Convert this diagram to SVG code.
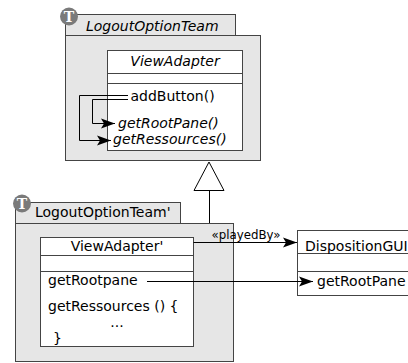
<svg xmlns="http://www.w3.org/2000/svg" width="408" height="363" viewBox="0 0 408 363">
<style>
.team{fill:#e6e6e6;stroke:#444;stroke-width:1}
.cls{fill:#fff;stroke:#444;stroke-width:1}
.sep{stroke:#444;stroke-width:1}
text{font-family:"DejaVu Sans",Verdana,sans-serif;font-size:14px;fill:#000}
.it{font-style:italic}
.icon{fill:#7a7a7a}
.iconT{font-family:"DejaVu Serif","Liberation Serif",serif;font-weight:bold;font-size:14px;fill:#fff}
.ln{fill:none;stroke:#000;stroke-width:1}
</style>
<defs>
<marker id="arr" markerWidth="15" markerHeight="11" refX="14" refY="5.5" orient="auto" markerUnits="userSpaceOnUse">
<path d="M0,0.5 L14,5.5 L0,10.5 L3,5.5 Z" fill="#000"/>
</marker>
</defs>
<g id="team-upper">
<rect class="team" x="65.5" y="14.5" width="170" height="21"/>
<rect class="team" x="65.5" y="35.5" width="195" height="125"/>
<circle class="icon" cx="69" cy="16.5" r="9"/>
<text class="iconT" x="69" y="21.5" text-anchor="middle">T</text>
<text class="it" x="86" y="31">LogoutOptionTeam</text>
</g>
<g id="viewadapter-upper">
<rect class="cls" x="107.5" y="50.5" width="135" height="100"/>
<line class="sep" x1="107.5" y1="73.5" x2="242.5" y2="73.5"/>
<line class="sep" x1="107.5" y1="83.5" x2="242.5" y2="83.5"/>
<text class="it" x="175" y="66" text-anchor="middle">ViewAdapter</text>
<text x="130.5" y="101">addButton()</text>
<text class="it" x="118" y="127.5">getRootPane()</text>
<text class="it" x="113" y="143.5">getRessources()</text>
</g>
<g id="team-lower">
<rect class="team" x="15.5" y="202.5" width="165" height="21"/>
<rect class="team" x="15.5" y="223.5" width="218" height="138"/>
<circle class="icon" cx="22" cy="203.5" r="9"/>
<text class="iconT" x="22" y="208.5" text-anchor="middle">T</text>
<text x="35" y="217">LogoutOptionTeam'</text>
</g>
<g id="viewadapter-lower">
<rect class="cls" x="40.5" y="237.5" width="153" height="109"/>
<line class="sep" x1="40.5" y1="255.5" x2="193.5" y2="255.5"/>
<line class="sep" x1="40.5" y1="271.5" x2="193.5" y2="271.5"/>
<text x="117" y="251" text-anchor="middle">ViewAdapter'</text>
<text x="48" y="285">getRootpane</text>
<text x="48" y="311">getRessources () {</text>
<text x="117" y="327" text-anchor="middle">...</text>
<text x="53" y="343">}</text>
</g>
<g id="dispositiongui">
<rect class="cls" x="297.5" y="230.5" width="120" height="65"/>
<line class="sep" x1="297.5" y1="253.5" x2="417.5" y2="253.5"/>
<line class="sep" x1="297.5" y1="271.5" x2="417.5" y2="271.5"/>
<text x="305" y="251">DispositionGUI</text>
<text x="317" y="286">getRootPane</text>
</g>
<g id="connectors">
<polyline class="ln" points="128,95.5 79.5,95.5 79.5,140.5 111,140.5" marker-end="url(#arr)"/>
<polyline class="ln" points="128,99.5 92.5,99.5 92.5,123.5 115,123.5" marker-end="url(#arr)"/>
<polygon points="209,162 194,190.5 224,190.5" fill="#fff" stroke="#000" stroke-width="1"/>
<line class="ln" x1="209.5" y1="190.5" x2="209.5" y2="223"/>
<line class="ln" x1="193.5" y1="242.5" x2="297" y2="242.5" marker-end="url(#arr)"/>
<text x="211.5" y="239" style="font-size:11.8px">«playedBy»</text>
<line class="ln" x1="147" y1="281.5" x2="313" y2="281.5" marker-end="url(#arr)"/>
</g>
</svg>
